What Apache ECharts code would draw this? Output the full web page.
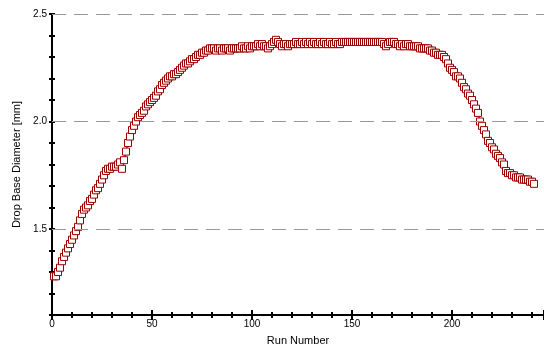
<!DOCTYPE html>
<html>
<head>
<meta charset="utf-8">
<script src="https://cdn.jsdelivr.net/npm/echarts@6/dist/echarts.min.js"></script>
<style>
    html, body { margin: 0; padding: 0; background: #fff; }
    #chart { width: 544px; height: 349px; }
</style>
</head>
<body>
<div id="chart"></div>
<script>
// run numbers 1..241, drop base diameter [mm]
var diameter = [
    1.28, 1.28, 1.30, 1.32, 1.35, 1.37, 1.39, 1.41, 1.43, 1.45,
    1.47, 1.49, 1.51, 1.54, 1.57, 1.59, 1.60, 1.61, 1.63, 1.64,
    1.66, 1.68, 1.69, 1.71, 1.73, 1.75, 1.77, 1.78, 1.78, 1.79,
    1.79, 1.79, 1.80, 1.81, 1.78, 1.82, 1.86, 1.90, 1.93, 1.96,
    1.98, 2.00, 2.02, 2.03, 2.04, 2.05, 2.07, 2.08, 2.09, 2.10,
    2.11, 2.12, 2.14, 2.15, 2.17, 2.18, 2.19, 2.20, 2.21, 2.21,
    2.22, 2.22, 2.23, 2.24, 2.25, 2.26, 2.27, 2.27, 2.28, 2.29,
    2.29, 2.30, 2.31, 2.31, 2.32, 2.32, 2.33, 2.33, 2.34, 2.34,
    2.34, 2.33, 2.34, 2.34, 2.33, 2.34, 2.34, 2.34, 2.33, 2.34,
    2.34, 2.34, 2.34, 2.34, 2.35, 2.34, 2.34, 2.35, 2.34, 2.35,
    2.35, 2.35, 2.36, 2.35, 2.36, 2.35, 2.35, 2.34, 2.35, 2.36,
    2.37, 2.38, 2.37, 2.36, 2.35, 2.36, 2.36, 2.35, 2.36, 2.36,
    2.36, 2.37, 2.36, 2.36, 2.37, 2.36, 2.37, 2.36, 2.37, 2.36,
    2.37, 2.36, 2.36, 2.37, 2.36, 2.37, 2.36, 2.36, 2.37, 2.36,
    2.36, 2.37, 2.36, 2.36, 2.37, 2.37, 2.37, 2.37, 2.37, 2.37,
    2.37, 2.37, 2.37, 2.37, 2.37, 2.37, 2.37, 2.37, 2.37, 2.37,
    2.37, 2.37, 2.37, 2.37, 2.37, 2.36, 2.35, 2.36, 2.37, 2.37,
    2.37, 2.36, 2.36, 2.35, 2.36, 2.35, 2.36, 2.36, 2.35, 2.35,
    2.35, 2.35, 2.35, 2.34, 2.34, 2.34, 2.34, 2.34, 2.33, 2.33,
    2.32, 2.32, 2.31, 2.31, 2.31, 2.30, 2.29, 2.27, 2.25, 2.24,
    2.23, 2.21, 2.21, 2.20, 2.18, 2.16, 2.15, 2.13, 2.12, 2.10,
    2.08, 2.06, 2.04, 2.00, 1.98, 1.96, 1.94, 1.91, 1.90, 1.88,
    1.87, 1.85, 1.84, 1.83, 1.81, 1.80, 1.77, 1.76, 1.76, 1.75,
    1.75, 1.74, 1.74, 1.74, 1.73, 1.73, 1.73, 1.73, 1.72, 1.72,
    1.71
];
var gridLevels = [1.5, 2.0, 2.5];

var points = [];
for (var i = 0; i < diameter.length; i++) {
    points.push([i + 1, diameter[i]]);
}

var chart = echarts.init(document.getElementById("chart"));
var font = "Liberation Sans";

// x axis: major ticks every 50, minor every 10, ticks cross the axis line
function xAxisDef(inside, main) {
    return {
        type: "value", min: 0, max: 246, interval: 50, position: "bottom",
        name: main ? "Run Number" : "", nameLocation: "middle", nameGap: 20,
        nameTextStyle: { color: "#000", fontFamily: font, fontSize: 11 },
        axisLine: { show: main, onZero: false, lineStyle: { color: "#000", width: 2 } },
        axisTick: { show: true, inside: inside, length: 5, lineStyle: { color: "#000", width: 2 } },
        minorTick: { show: true, splitNumber: 5, length: 3, lineStyle: { color: "#000", width: 2 } },
        axisLabel: {
            show: main, color: "#000", fontFamily: font, fontSize: 10, margin: 4,
            formatter: function (v) { return v % 50 === 0 ? String(v) : ""; }
        },
        splitLine: { show: false }
    };
}
function yAxisDef(inside, main) {
    return {
        type: "value", min: 1.1, max: 2.5, interval: 0.1, position: "left",
        name: main ? "Drop Base Diameter [mm]" : "", nameLocation: "middle", nameGap: 28,
        nameTextStyle: { color: "#000", fontFamily: font, fontSize: 11 },
        axisLine: { show: main, onZero: false, lineStyle: { color: "#000", width: 2 } },
        axisTick: { show: true, inside: inside, length: 3, lineStyle: { color: "#000", width: 2 } },
        axisLabel: {
            show: main, color: "#000", fontFamily: font, fontSize: 10, margin: 5,
            formatter: function (v) {
                return Math.abs(v * 2 - Math.round(v * 2)) < 1e-6 ? v.toFixed(1) : "";
            }
        },
        splitLine: { show: false }
    };
}

chart.setOption({
    animation: false,
    backgroundColor: "#fff",
    grid: { left: 52, right: 0, top: 14, bottom: 34, containLabel: false, outerBoundsMode: "none" },
    xAxis: [xAxisDef(false, true), xAxisDef(true, false)],
    yAxis: [yAxisDef(false, true), yAxisDef(true, false)],
    series: [{
        type: "line",
        data: points,
        showSymbol: true,
        symbol: "rect",
        symbolSize: 7,
        lineStyle: { color: "#000", width: 1 },
        itemStyle: { color: "#fff", borderColor: "#990000", borderWidth: 1 },
        markLine: {
            silent: true,
            symbol: "none",
            label: { show: false },
            lineStyle: { color: "#999", type: [14, 8], width: 1 },
            data: gridLevels.map(function (v) { return { yAxis: v }; })
        }
    }]
});
</script>
</body>
</html>
